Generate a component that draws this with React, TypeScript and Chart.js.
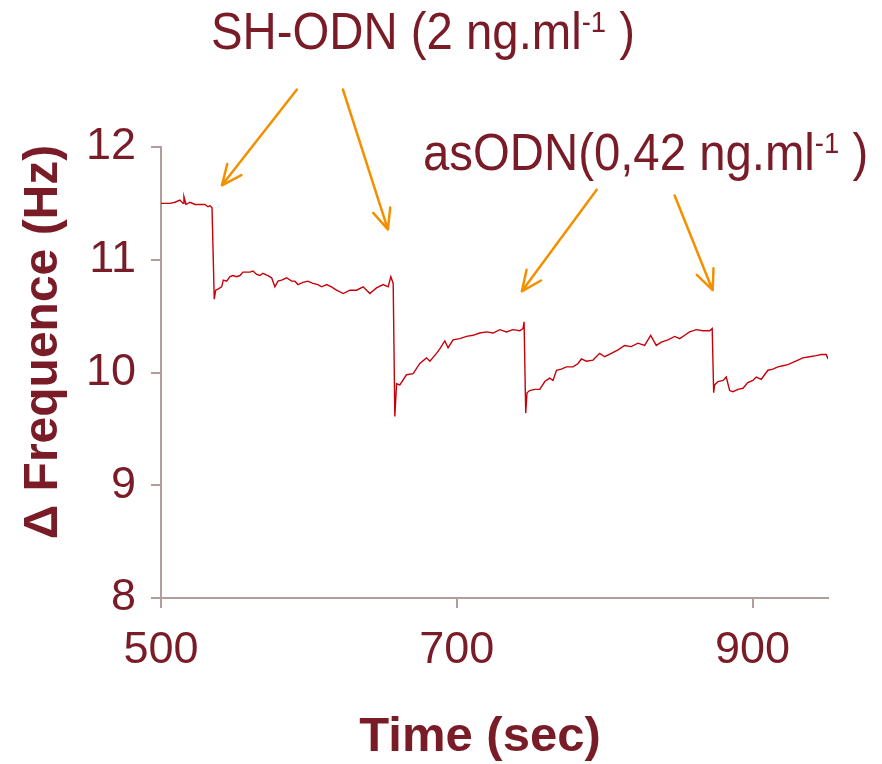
import React, { useEffect, useRef } from "react";
import { Chart, registerables } from "chart.js";

Chart.register(...registerables);

// ---- data ----
const timeSec = [
  500, 506, 509.5, 512.8, 514.9, 515.5, 516.9, 519.6, 523, 526.4, 529.7, 531.8, 533.1, 534.5,
  536, 537, 538.5, 541, 542.1, 544.4, 546.6, 548.6, 551.1, 553.4, 555.4, 557.9, 560.1, 562.2,
  564.7, 566.9, 568.9, 572.3, 574.8, 577, 579.1, 581.6, 584.9, 588.3, 590.5, 592.6, 596, 599.3,
  602.7, 606.1, 608.6, 612, 615.3, 617.6, 618.7, 623.2, 627.7, 632.2, 636.7, 641.2, 645.7, 650.2,
  653.6, 655.4, 657, 658.1, 659.3, 661.5, 666, 670.5, 675, 679.5, 681.8, 686.3, 688.5, 691.9,
  694.1, 697.5, 702, 706.6, 711, 715.5, 720.1, 724.5, 729.1, 733.6, 738, 742.6, 744.8, 745.5,
  746.6, 747.5, 749.3, 752.7, 756.1, 759.5, 762.8, 765.1, 767.4, 770.7, 774.1, 778.6, 782, 784.3,
  787.6, 792.1, 796.6, 800, 804.5, 809, 813.5, 818, 822.5, 827, 831.1, 834.9, 838.3, 842.8,
  847.3, 850.7, 854.1, 857.4, 862, 866.4, 871, 872.7, 873.7, 874.3, 876.6, 880, 882.2, 884.5,
  886.7, 890.1, 893.5, 896.8, 900.2, 902.5, 905.9, 908.1, 910.4, 913.7, 917.1, 920.5, 923.9,
  927.3, 930.7, 934, 938.6, 943, 946.4, 949.8, 951,
];

const deltaFrequence = [
  11.5, 11.5, 11.51, 11.53, 11.5, 11.56, 11.49, 11.51, 11.49, 11.49, 11.49, 11.47, 11.48, 11.46,
  10.65, 10.73, 10.74, 10.76, 10.82, 10.81, 10.85, 10.86, 10.85, 10.86, 10.89, 10.89, 10.89, 10.9,
  10.87, 10.86, 10.88, 10.86, 10.84, 10.76, 10.81, 10.82, 10.84, 10.81, 10.81, 10.78, 10.8, 10.81,
  10.79, 10.78, 10.76, 10.78, 10.76, 10.74, 10.73, 10.7, 10.73, 10.73, 10.76, 10.7, 10.75, 10.78,
  10.76, 10.85, 10.79, 9.61, 9.9, 9.89, 9.98, 9.99, 10.08, 10.13, 10.1, 10.17, 10.21, 10.28,
  10.22, 10.29, 10.3, 10.32, 10.33, 10.35, 10.36, 10.35, 10.38, 10.36, 10.38, 10.37, 10.39, 10.45,
  9.64, 9.82, 9.84, 9.85, 9.85, 9.92, 9.95, 9.93, 10.02, 10.03, 10.05, 10.05, 10.08, 10.12,
  10.1, 10.11, 10.17, 10.14, 10.17, 10.2, 10.24, 10.23, 10.26, 10.24, 10.33, 10.24, 10.27, 10.29,
  10.32, 10.3, 10.33, 10.36, 10.38, 10.37, 10.37, 10.39, 9.82, 9.89, 9.92, 9.93, 9.96, 9.84,
  9.83, 9.85, 9.86, 9.91, 9.93, 9.96, 9.94, 9.98, 10.02, 10.03, 10.05, 10.06, 10.07,
  10.09, 10.11, 10.13, 10.14, 10.15, 10.16, 10.16, 10.12,
];

const xTickValues = [500, 700, 900];
const yTickValues = [8, 9, 10, 11, 12];
const xRange = [500, 951];
const yRange = [8, 12];

const xAxisTitle = "Time (sec)";
const yAxisTitle = "\u0394 Frequence (Hz)";

// annotation labels: text parts (superscript flagged)
const label1Parts = [
  { t: "SH-ODN (2 ng.ml", sup: false },
  { t: "-1", sup: true },
  { t: " )", sup: false },
];
const label2Parts = [
  { t: "asODN(0,42 ng.ml", sup: false },
  { t: "-1", sup: true },
  { t: " )", sup: false },
];

// arrows in data coordinates: [tailTime, tailFreq, headTime, headFreq]
const arrows1 = [
  [591.9, 12.51, 541.2, 11.66],
  [623, 12.51, 653.4, 11.27],
];
const arrows2 = [
  [794.6, 11.62, 744, 10.72],
  [847.3, 11.57, 873, 10.73],
];

// ---- styles ----
const TEXT = "#7a1c28";
const AXIS = "#b39c9c";
const LINE = "#c8000a";
const ORANGE = "#f39000";

function hasFont(name: string): boolean {
  const c = document.createElement("canvas").getContext("2d");
  if (!c) return false;
  const s = "500 12 asODN";
  c.font = "50px monospace";
  const a = c.measureText(s).width;
  c.font = `50px '${name}', monospace`;
  const b = c.measureText(s).width;
  return Math.abs(a - b) > 0.5;
}

function drawRich(
  ctx: CanvasRenderingContext2D,
  x: number,
  baseline: number,
  parts: { t: string; sup: boolean }[],
  size: number,
  sx: number
) {
  ctx.save();
  ctx.translate(x, baseline);
  ctx.scale(sx, 1);
  ctx.textAlign = "left";
  ctx.textBaseline = "alphabetic";
  ctx.fillStyle = TEXT;
  let cx = 0;
  for (const p of parts) {
    const fs = p.sup ? size * 0.58 : size;
    ctx.font = `${fs}px 'Liberation Sans', Arial, sans-serif`;
    const dy = p.sup ? -size * 0.32 : 0;
    ctx.fillText(p.t, cx, dy);
    cx += ctx.measureText(p.t).width;
  }
  ctx.restore();
}

const overlayPlugin = {
  id: "overlayPlugin",
  afterDraw(chart: any) {
    const ctx: CanvasRenderingContext2D = chart.ctx;
    const xs = chart.scales.x;
    const ys = chart.scales.y;
    ctx.save();
    // arrows
    ctx.strokeStyle = ORANGE;
    ctx.lineWidth = 2.5;
    ctx.lineCap = "round";
    ctx.lineJoin = "round";
    for (const a of [...arrows1, ...arrows2]) {
      const x1 = xs.getPixelForValue(a[0]);
      const y1 = ys.getPixelForValue(a[1]);
      const x2 = xs.getPixelForValue(a[2]);
      const y2 = ys.getPixelForValue(a[3]);
      const ang = Math.atan2(y2 - y1, x2 - x1);
      const L = 22;
      const w = 0.42;
      ctx.beginPath();
      ctx.moveTo(x1, y1);
      ctx.lineTo(x2, y2);
      ctx.moveTo(x2 - L * Math.cos(ang - w), y2 - L * Math.sin(ang - w));
      ctx.lineTo(x2, y2);
      ctx.lineTo(x2 - L * Math.cos(ang + w), y2 - L * Math.sin(ang + w));
      ctx.stroke();
    }
    // annotation labels
    drawRich(ctx, 211, 49, label1Parts, 52, 0.91);
    drawRich(ctx, 423, 170, label2Parts, 52, 0.91);

    // axis titles
    ctx.fillStyle = TEXT;
    ctx.textAlign = "center";
    ctx.textBaseline = "middle";
    ctx.font = "bold 48px 'Liberation Sans', Arial, sans-serif";
    ctx.save();
    ctx.translate(44, 342);
    ctx.rotate(-Math.PI / 2);
    ctx.fillText(yAxisTitle, 0, 0);
    ctx.restore();
    ctx.font = "bold 49px 'Liberation Sans', Arial, sans-serif";
    ctx.fillText(xAxisTitle, 480, 737);
    ctx.restore();
  },
};

export default function App() {
  const canvasRef = useRef<HTMLCanvasElement | null>(null);

  useEffect(() => {
    const canvas = canvasRef.current;
    if (!canvas) return;
    const narrow = hasFont("Liberation Sans Narrow");
    const tickFont = narrow
      ? { family: "'Liberation Sans Narrow', 'Liberation Sans', Arial, sans-serif", size: 50 }
      : { family: "'Liberation Sans', Arial, sans-serif", size: 45 };

    const points = timeSec.map((t, i) => ({ x: t, y: deltaFrequence[i] }));

    const chart = new Chart(canvas, {
      type: "line",
      data: {
        datasets: [
          {
            data: points,
            borderColor: LINE,
            borderWidth: 1.4,
            pointRadius: 0,
            tension: 0,
            fill: false,
          },
        ],
      },
      options: {
        responsive: false,
        animation: false,
        devicePixelRatio: 1,
        layout: { padding: { left: 0, top: 147, right: 54, bottom: 0 } },
        plugins: {
          legend: { display: false },
          tooltip: { enabled: false },
          title: { display: false },
        },
        scales: {
          x: {
            type: "linear",
            min: xRange[0],
            max: xRange[1],
            afterBuildTicks: (s: any) => {
              s.ticks = xTickValues.map((v) => ({ value: v }));
            },
            afterFit: (s: any) => {
              s.height = 166;
            },
            grid: {
              drawOnChartArea: false,
              drawTicks: true,
              tickLength: 10,
              color: AXIS,
              lineWidth: 2,
            },
            border: { display: true, color: AXIS, width: 2 },
            ticks: {
              color: TEXT,
              font: tickFont,
              padding: 16,
              maxRotation: 0,
              autoSkip: false,
            },
          },
          y: {
            type: "linear",
            min: yRange[0],
            max: yRange[1],
            afterBuildTicks: (s: any) => {
              s.ticks = yTickValues.map((v) => ({ value: v }));
            },
            afterFit: (s: any) => {
              s.width = 161;
            },
            grid: {
              drawOnChartArea: false,
              drawTicks: true,
              tickLength: 10,
              color: AXIS,
              lineWidth: 2,
            },
            border: { display: true, color: AXIS, width: 2 },
            ticks: {
              color: TEXT,
              font: tickFont,
              padding: 15,
              autoSkip: false,
            },
          },
        },
      },
      plugins: [overlayPlugin],
    } as any);

    return () => chart.destroy();
  }, []);

  return (
    <div style={{ position: "absolute", left: 0, top: 0, width: 882, height: 764, background: "#ffffff" }}>
      <canvas ref={canvasRef} width={882} height={764} style={{ display: "block" }} />
    </div>
  );
}
